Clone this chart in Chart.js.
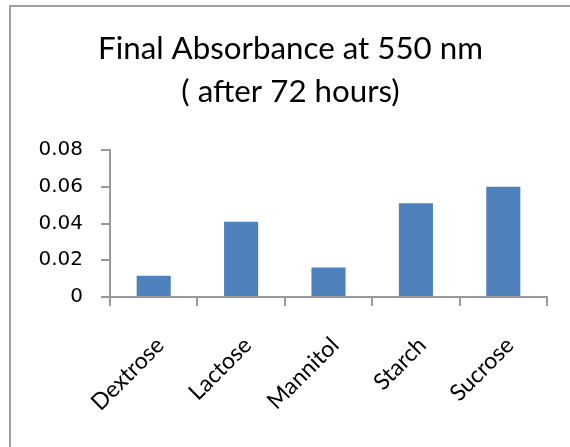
<!DOCTYPE html>
<html><head><meta charset="utf-8">
<script src="https://cdn.jsdelivr.net/npm/chart.js@4"></script>
<style>html,body{margin:0;padding:0;background:#fff;overflow:hidden}#wrap{position:relative;width:570px;height:447px}</style>
</head><body><div id="wrap"><canvas id="c" width="570" height="447"></canvas></div>
<script>
const categories = ['Dextrose', 'Lactose', 'Mannitol', 'Starch', 'Sucrose'];
const absorbance = [0.0115, 0.041, 0.016, 0.051, 0.060];
const yTickValues = [0, 0.02, 0.04, 0.06, 0.08];
const yTickLabels = ['0', '0.02', '0.04', '0.06', '0.08'];
const titleLines = ['Final Absorbance at 550 nm', '( after 72 hours)'];

function fitSize(text, family, target) {
  const c = document.createElement('canvas').getContext('2d');
  c.font = '100px ' + family;
  return 100 * target / c.measureText(text).width;
}
const titleSize = fitSize(titleLines[0], 'Lato', 385);
const xLabelSize = fitSize('Dextrose', 'Lato', 92);
const titleLH = 43.3;
const titleMid = 60.7 - 0.387 * titleSize;
const titlePadTop = titleMid - titleLH / 2;
const titlePadBottom = 150 - titlePadTop - 2 * titleLH;
const xPad = 341.5 - 306 - 0.354 * 1.2 * xLabelSize;

const framePlugin = {
  id: 'frame',
  beforeDraw(chart) {
    const ctx = chart.ctx;
    ctx.save();
    ctx.fillStyle = '#fff';
    ctx.fillRect(0, 0, chart.width, chart.height);
    ctx.fillStyle = '#a0a0a0';
    ctx.fillRect(9, 5, chart.width - 9, 2);
    ctx.fillRect(9, 5, 2, chart.height - 5);
    ctx.restore();
  }
};

new Chart(document.getElementById('c'), {
  type: 'bar',
  data: {
    labels: categories,
    datasets: [{
      data: absorbance,
      backgroundColor: '#4f81bd',
      borderWidth: 0,
      barPercentage: 0.39,
      categoryPercentage: 1.0
    }]
  },
  options: {
    responsive: false,
    animation: false,
    devicePixelRatio: 1,
    layout: { padding: { left: 11, right: 0, top: 0, bottom: 0 } },
    plugins: {
      legend: { display: false },
      tooltip: { enabled: false },
      title: {
        display: true,
        text: titleLines,
        color: '#000',
        font: { family: 'Lato', size: titleSize, weight: 'normal', lineHeight: titleLH / titleSize },
        padding: { top: titlePadTop, bottom: titlePadBottom }
      }
    },
    scales: {
      x: {
        grid: { display: true, drawOnChartArea: false, drawTicks: true, tickLength: 9, color: '#999', lineWidth: 2, offset: true },
        border: { display: true, color: '#999', width: 2 },
        ticks: {
          color: '#000',
          font: { family: 'Lato', size: xLabelSize },
          minRotation: 45, maxRotation: 45,
          padding: xPad,
          labelOffset: 6.5,
          autoSkip: false
        },
        afterFit(s) { s.height = 150; }
      },
      y: {
        min: 0, max: 0.08,
        grid: { display: true, drawOnChartArea: false, drawTicks: true, tickLength: 9, color: '#999', lineWidth: 2 },
        border: { display: true, color: '#999', width: 2 },
        ticks: {
          stepSize: 0.02,
          color: '#000',
          padding: 18,
          font: { family: 'DejaVu Sans', size: 20 },
          callback(v) {
            const i = yTickValues.findIndex(t => Math.abs(t - v) < 1e-9);
            return i >= 0 ? yTickLabels[i] : '';
          }
        },
        afterFit(s) { s.width = 99; }
      },
      yR: {
        type: 'linear',
        position: 'right',
        display: true,
        grid: { display: false },
        border: { display: false },
        ticks: { display: false },
        afterFit(s) { s.width = 23; }
      }
    }
  },
  plugins: [framePlugin]
});
</script>
</body></html>
